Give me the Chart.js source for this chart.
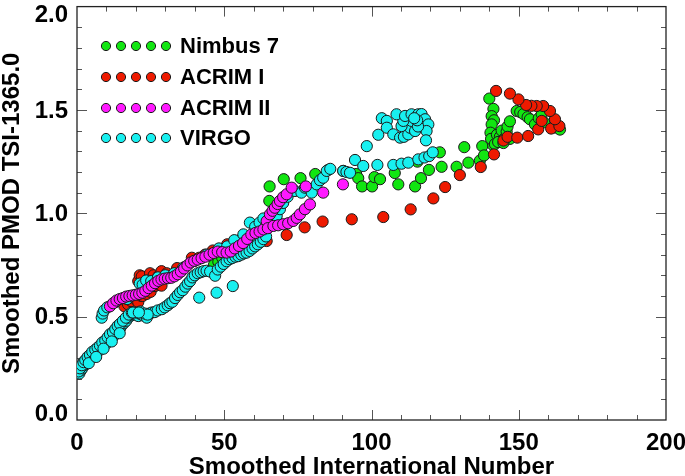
<!DOCTYPE html>
<html>
<head>
<meta charset="utf-8">
<script src="https://cdn.jsdelivr.net/npm/chart.js@4/dist/chart.umd.min.js"></script>
<style>
  html, body { margin: 0; padding: 0; background: #fff; }
  #wrap { width: 685px; height: 476px; position: relative; }
</style>
</head>
<body>
<div id="wrap"><canvas id="c"></canvas></div>
<script>
// ---------------- DATA ----------------
const seriesNames = ["Nimbus 7", "ACRIM I", "ACRIM II", "VIRGO"];
const xTickLabels = ["0", "50", "100", "150", "200"];
const yTickLabels = ["0.0", "0.5", "1.0", "1.5", "2.0"];

const nimbusX = [46.5, 48.0, 49.3, 63.3, 67.5, 65.3, 65.4, 70.2, 75.9, 80.9, 85.3, 90.4, 94.8, 95.5, 96.8, 100.2, 101.0, 102.9, 107.9, 109.1, 114.8, 116.8, 119.5, 115.6, 123.2, 123.8, 128.9, 131.5, 132.9, 136.8, 137.6, 138.2, 141.3, 140.0, 141.4, 140.8, 141.6, 140.8, 140.4, 140.6, 141.9, 142.6, 143.6, 144.2, 145.0, 145.9, 146.2, 147.0, 147.0, 143.0, 144.8, 149.3, 150.5, 151.6, 153.0, 153.8, 155.5, 156.8, 157.8, 158.6, 162.3, 164.0];
const nimbusY = [0.75, 0.765, 0.785, 0.905, 0.98, 1.06, 1.13, 1.165, 1.17, 1.19, 1.21, 1.205, 1.19, 1.17, 1.13, 1.13, 1.175, 1.165, 1.195, 1.14, 1.13, 1.17, 1.21, 1.25, 1.295, 1.225, 1.225, 1.32, 1.245, 1.255, 1.325, 1.28, 1.33, 1.555, 1.505, 1.47, 1.45, 1.43, 1.39, 1.36, 1.335, 1.38, 1.37, 1.40, 1.36, 1.395, 1.42, 1.445, 1.36, 1.345, 1.34, 1.495, 1.49, 1.48, 1.465, 1.455, 1.43, 1.46, 1.48, 1.44, 1.415, 1.405];

const acrim1X = [16.1, 17.3, 18.4, 19.8, 20.8, 21.8, 22.3, 23.7, 25.0, 26.5, 27.8, 28.7, 20.8, 21.3, 22.0, 24.8, 26.0, 27.7, 28.7, 30.5, 33.3, 34.0, 36.5, 39.0, 41.5, 43.5, 46.1, 48.0, 51.0, 53.0, 55.2, 57.6, 64.4, 71.2, 77.3, 83.4, 93.3, 104.0, 113.3, 121.0, 125.0, 130.0, 137.1, 141.6, 144.8, 146.2, 149.5, 153.2, 156.6, 157.8, 161.0, 163.8, 162.3, 160.6, 158.3, 156.1, 154.3, 152.5, 149.9, 147.0, 142.3];
const acrim1Y = [0.55, 0.56, 0.575, 0.585, 0.57, 0.60, 0.60, 0.61, 0.62, 0.648, 0.655, 0.65, 0.672, 0.70, 0.695, 0.71, 0.70, 0.697, 0.72, 0.71, 0.713, 0.735, 0.74, 0.785, 0.785, 0.80, 0.82, 0.82, 0.85, 0.845, 0.87, 0.858, 0.866, 0.895, 0.932, 0.96, 0.971, 0.982, 1.019, 1.072, 1.127, 1.185, 1.224, 1.285, 1.352, 1.37, 1.366, 1.374, 1.406, 1.447, 1.41, 1.422, 1.455, 1.495, 1.519, 1.519, 1.52, 1.524, 1.551, 1.579, 1.592];

const acrim2X = [11.2, 12.3, 13.4, 14.5, 15.6, 16.7, 17.8, 18.9, 20.0, 21.1, 22.2, 23.2, 24.3, 25.4, 26.5, 27.6, 28.7, 29.8, 30.9, 32.0, 33.1, 34.2, 35.3, 36.4, 37.5, 38.6, 39.8, 41.0, 42.3, 43.6, 45.0, 46.4, 47.8, 49.3, 50.8, 52.2, 53.6, 55.0, 56.4, 57.8, 59.2, 60.6, 62.0, 63.3, 64.4, 65.5, 66.4, 67.2, 68.1, 68.9, 70.0, 71.2, 72.9, 64.8, 66.7, 68.3, 70.0, 71.7, 73.4, 74.6, 75.7, 77.4, 79.1, 83.6, 77.7, 90.3];
const acrim2Y = [0.55, 0.565, 0.578, 0.585, 0.59, 0.597, 0.60, 0.603, 0.606, 0.61, 0.616, 0.625, 0.638, 0.65, 0.662, 0.673, 0.68, 0.684, 0.686, 0.688, 0.695, 0.705, 0.718, 0.733, 0.748, 0.762, 0.77, 0.776, 0.783, 0.79, 0.80, 0.808, 0.815, 0.812, 0.81, 0.815, 0.83, 0.842, 0.856, 0.876, 0.897, 0.905, 0.912, 0.922, 0.962, 0.995, 1.012, 1.027, 1.045, 1.06, 1.078, 1.092, 1.124, 0.928, 0.939, 0.942, 0.947, 0.952, 0.963, 0.978, 0.995, 1.02, 1.043, 1.10, 1.13, 1.14];

const virgoX = [0.8, 1.3, 1.8, 2.4, 3.0, 3.5, 4.1, 4.8, 5.4, 6.0, 6.6, 7.2, 7.9, 8.6, 9.3, 10.0, 10.6, 11.3, 12.0, 12.7, 13.4, 14.0, 14.7, 15.3, 16.0, 16.7, 17.4, 18.2, 19.0, 19.8, 20.8, 21.6, 22.6, 23.7, 24.6, 25.4, 26.4, 27.4, 28.8, 29.8, 30.8, 31.6, 32.4, 33.3, 34.2, 35.0, 35.9, 36.8, 37.6, 38.4, 39.2, 40.0, 41.0, 42.0, 43.0, 44.0, 45.2, 46.9, 47.8, 48.8, 49.8, 50.8, 51.8, 52.8, 53.8, 54.8, 55.8, 56.7, 57.6, 58.6, 59.6, 60.5, 61.4, 62.4, 63.3, 64.2,
  0.5, 1.0, 1.6, 2.2, 2.8, 3.6, 4.4, 5.2, 6.2, 7.0, 7.8, 8.6, 9.6, 10.4, 11.2, 12.2, 13.0, 13.8, 14.6, 15.6, 16.6, 17.6, 18.6, 20.0, 21.5, 23.0, 24.0,
  4.0, 6.5, 9.0, 11.8, 14.5, 19.0, 21.0,
  41.5, 47.4, 52.9,
  8.4, 8.7, 9.2, 10.3, 13.0, 17.0, 21.3, 22.3, 23.5, 25.2, 27.5, 30.0, 33.0, 36.0, 40.0, 44.0, 48.2, 51.0, 53.4, 56.5, 58.7, 60.5, 62.0, 63.3, 64.4, 65.8, 67.8, 68.9, 70.0, 71.5, 74.0, 76.2, 77.4, 79.7, 81.4, 82.5, 83.6, 84.8, 86.0, 90.4, 91.5, 92.7, 94.4, 97.2, 98.4, 102.0, 102.3, 103.5, 105.2, 105.2, 107.4, 109.7, 111.0, 112.5, 113.1, 113.6, 110.2, 110.8, 108.5, 111.4, 113.6, 115.9, 117.0, 118.2, 119.3, 118.7, 118.5, 114.8, 115.8, 115.5, 114.5, 107.4, 110.2, 112.5, 115.9, 118.0, 119.6, 120.8];
const virgoY = [0.225, 0.24, 0.25, 0.265, 0.27, 0.285, 0.29, 0.30, 0.31, 0.315, 0.325, 0.335, 0.34, 0.35, 0.365, 0.37, 0.382, 0.395, 0.40, 0.41, 0.425, 0.43, 0.445, 0.46, 0.47, 0.48, 0.495, 0.505, 0.51, 0.51, 0.503, 0.512, 0.505, 0.495, 0.515, 0.52, 0.522, 0.53, 0.536, 0.545, 0.555, 0.565, 0.572, 0.59, 0.605, 0.618, 0.628, 0.645, 0.66, 0.672, 0.69, 0.70, 0.71, 0.715, 0.72, 0.722, 0.718, 0.698, 0.728, 0.742, 0.755, 0.768, 0.778, 0.784, 0.79, 0.793, 0.80, 0.806, 0.81, 0.818, 0.83, 0.84, 0.85, 0.862, 0.875, 0.888,
  0.235, 0.25, 0.265, 0.28, 0.29, 0.305, 0.315, 0.33, 0.34, 0.35, 0.36, 0.375, 0.385, 0.40, 0.415, 0.425, 0.44, 0.455, 0.465, 0.48, 0.495, 0.51, 0.52, 0.52, 0.525, 0.515, 0.51,
  0.275, 0.305, 0.345, 0.38, 0.42, 0.52, 0.52,
  0.592, 0.616, 0.648,
  0.495, 0.515, 0.53, 0.545, 0.57, 0.585, 0.66, 0.655, 0.675, 0.672, 0.69, 0.70, 0.71, 0.735, 0.77, 0.80, 0.83, 0.84, 0.87, 0.898, 0.955, 0.935, 0.955, 0.975, 0.947, 0.96, 0.987, 1.02, 1.05, 1.08, 1.108, 1.10, 1.124, 1.10, 1.14, 1.16, 1.172, 1.205, 1.215, 1.205, 1.20, 1.196, 1.258, 1.229, 1.325, 1.234, 1.38, 1.46, 1.447, 1.414, 1.382, 1.366, 1.37, 1.382, 1.414, 1.447, 1.422, 1.447, 1.479, 1.471, 1.479, 1.479, 1.48, 1.455, 1.43, 1.398, 1.353, 1.398, 1.42, 1.45, 1.46, 1.234, 1.24, 1.245, 1.261, 1.27, 1.277, 1.295];

const seriesColors = ["#11e611", "#ee1a00", "#ff18ff", "#18f0f0"];
// ------------------------------------------------------------------------

function pts(xs, ys) { return xs.map((x, i) => ({ x: x, y: ys[i] })); }

const FONT = "'Liberation Sans', Arial, Helvetica, sans-serif";

const allX = [nimbusX, acrim1X, acrim2X, virgoX];
const allY = [nimbusY, acrim1Y, acrim2Y, virgoY];
const drawOrder = [3, 2, 0, 1]; // lower = drawn on top

const datasets = seriesNames.map((name, i) => ({
  label: name,
  data: pts(allX[i], allY[i]),
  backgroundColor: seriesColors[i],
  borderColor: "#1a1a1a",
  pointBorderWidth: 1,
  pointRadius: 5.6,
  pointHoverRadius: 5.6,
  showLine: false,
  order: drawOrder[i]
}));

const frameTicks = {
  id: "frameTicks",
  beforeDatasetsDraw(chart) {
    const { ctx, chartArea: a, scales } = chart;
    const x = scales.x, y = scales.y;
    ctx.save();
    ctx.strokeStyle = "#555";
    ctx.lineWidth = 1;
    ctx.beginPath();
    for (let v = 10; v < 200; v += 10) {
      const px = Math.round(x.getPixelForValue(v)) + 0.5;
      const len = (v % 50 === 0) ? 10 : 5;
      ctx.moveTo(px, a.bottom); ctx.lineTo(px, a.bottom - len);
      ctx.moveTo(px, a.top); ctx.lineTo(px, a.top + len);
    }
    for (let k = 1; k < 20; k++) {
      const v = k / 10;
      const py = Math.round(y.getPixelForValue(v)) + 0.5;
      const len = (k % 5 === 0) ? 10 : 5;
      ctx.moveTo(a.left, py); ctx.lineTo(a.left + len, py);
      ctx.moveTo(a.right, py); ctx.lineTo(a.right - len, py);
    }
    ctx.stroke();
    ctx.strokeStyle = "#222";
    ctx.lineWidth = 1.3;
    ctx.strokeRect(a.left, a.top, a.right - a.left, a.bottom - a.top);

    // y tick labels from the library's own ticks (end labels nudged inward as in the reference)
    ctx.fillStyle = "#000";
    ctx.font = "bold 24px " + FONT;
    ctx.textAlign = "right";
    ctx.textBaseline = "middle";
    y.ticks.forEach((t) => {
      let py = y.getPixelForValue(t.value);
      if (t.value >= 2) py += 8;
      if (t.value <= 0) py -= 7;
      const i = Math.round(t.value / 0.5);
      ctx.fillText(yTickLabels[i], a.left - 9, py + 1);
    });
    ctx.restore();
  }
};

const legendPlugin = {
  id: "customLegend",
  afterDatasetsDraw(chart) {
    const ctx = chart.ctx;
    const rowsY = [46, 77, 108, 138];
    ctx.save();
    seriesNames.forEach((name, i) => {
      for (let k = 0; k < 5; k++) {
        ctx.beginPath();
        ctx.arc(106 + k * 15, rowsY[i], 4.6, 0, Math.PI * 2);
        ctx.fillStyle = seriesColors[i];
        ctx.fill();
        ctx.lineWidth = 1;
        ctx.strokeStyle = "#1a1a1a";
        ctx.stroke();
      }
      ctx.fillStyle = "#000";
      ctx.font = "bold 22px " + FONT;
      ctx.textBaseline = "middle";
      ctx.textAlign = "left";
      ctx.fillText(name, 180, rowsY[i] + 1);
    });
    ctx.restore();
  }
};

new Chart(document.getElementById("c"), {
  type: "scatter",
  data: { datasets: datasets },
  options: {
    responsive: true,
    maintainAspectRatio: false,
    animation: false,
    events: [],
    layout: { padding: { left: 0, right: 19, top: 4, bottom: 0 } },
    plugins: { legend: { display: false }, tooltip: { enabled: false } },
    scales: {
      x: {
        type: "linear", min: 0, max: 200,
        grid: { display: false, drawTicks: false },
        border: { display: false },
        ticks: {
          stepSize: 50, padding: 9, color: "#000",
          font: { family: FONT, size: 24, weight: "bold" },
          callback: (v) => { const i = Math.round(v / 50); return xTickLabels[i]; }
        },
        title: {
          display: true, text: "Smoothed International Number", color: "#000",
          font: { family: FONT, size: 24, weight: "bold", lineHeight: 1 },
          padding: { top: 0, bottom: -3 }
        },
        afterFit: (s) => { s.height = 56; s.paddingLeft = 0; s.paddingRight = 0; }
      },
      y: {
        type: "linear", min: 0, max: 2,
        grid: { display: false, drawTicks: false },
        border: { display: false },
        ticks: {
          display: false, stepSize: 0.5, color: "#000",
          font: { family: FONT, size: 24, weight: "bold" }
        },
        title: {
          display: true, text: "Smoothed PMOD TSI-1365.0", color: "#000",
          font: { family: FONT, size: 24, weight: "bold", lineHeight: 1 },
          padding: { top: 0, bottom: 0 }
        },
        afterFit: (s) => { s.width = 77; s.paddingTop = 0; s.paddingBottom = 0; }
      }
    }
  },
  plugins: [frameTicks, legendPlugin]
});
</script>
</body>
</html>
